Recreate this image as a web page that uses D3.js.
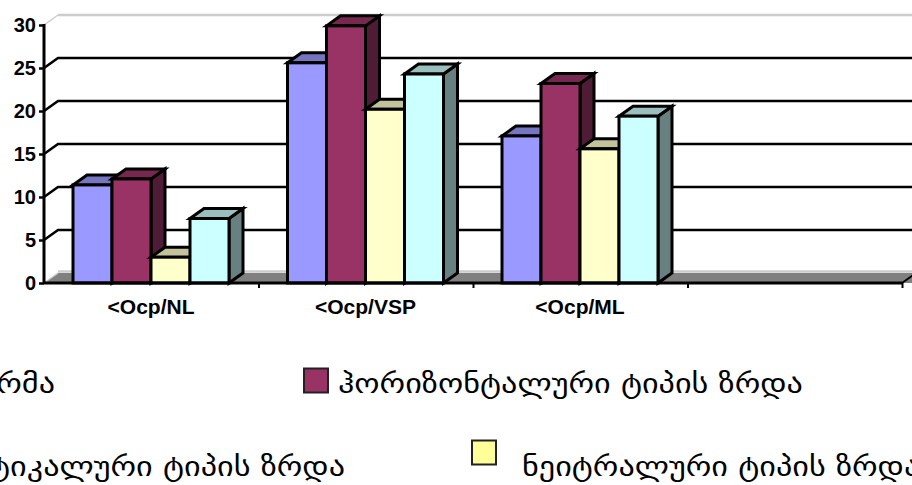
<!DOCTYPE html>
<html>
<head>
<meta charset="utf-8">
<script src="https://cdn.jsdelivr.net/npm/d3@7"></script>
<style>
html,body{margin:0;padding:0;background:#fff;overflow:hidden}
svg{display:block}
.tick-y{font:bold 20px "Liberation Sans",Arial,sans-serif}
.tick-x{font:bold 21px "Liberation Sans",Arial,sans-serif}
.legend{font:28px "DejaVu Sans",sans-serif;fill:#000}
</style>
</head>
<body>
<svg id="chart" width="912" height="485"></svg>
<script>
// Growth-type distribution across three cephalometric measures
const categories = ["<Ocp/NL", "<Ocp/VSP", "<Ocp/ML", ""];
const seriesNames = ["ნორმა", "ჰორიზონტალური ტიპის ზრდა", "ვერტიკალური ტიპის ზრდა", "ნეიტრალური ტიპის ზრდა"];
const norma = [11.4, 25.6, 17.1];
const horizontal = [12.1, 29.9, 23.2];
const vertical = [3.0, 20.2, 15.6];
const neutral = [7.5, 24.3, 19.4];
const yTicks = [0, 5, 10, 15, 20, 25, 30];

const seriesValues = [norma, horizontal, vertical, neutral];
const frontColors = ["#9999FF", "#993366", "#FFFFCC", "#CCFFFF"];
const topColors = ["#7676C0", "#76284F", "#C2C29B", "#99BFBF"];
const sideColors = ["#56568F", "#4F1C36", "#8F8F70", "#688080"];

const svg = d3.select("#chart");
const depthX = 14, depthY = -10;
const x = d3.scaleBand().domain(categories).range([44, 902]);
const inner = d3.scaleBand().domain(d3.range(4)).range([29, 185]);
const y = d3.scaleLinear().domain([0, 30]).range([283, 25]);
const rightEdge = 920;

// Floor and back wall
svg.append("polygon")
  .attr("points", [[44, y(0)], [44 + depthX, y(0) + depthY], [rightEdge, y(0) + depthY], [rightEdge, y(0)]].join(" "))
  .attr("fill", "#808080");

[0, 30].forEach(v => {
  svg.append("line")
    .attr("x1", 44 + depthX).attr("x2", rightEdge)
    .attr("y1", y(v) + depthY - (v === 0 ? 1.5 : 0)).attr("y2", y(v) + depthY - (v === 0 ? 1.5 : 0))
    .attr("stroke", "#cccccc").attr("stroke-width", 2.4);
  svg.append("line")
    .attr("x1", 44).attr("x2", 44 + depthX)
    .attr("y1", y(v)).attr("y2", y(v) + depthY)
    .attr("stroke", "#cccccc").attr("stroke-width", 1.5);
});

yTicks.filter(v => v > 0 && v < 30).forEach(v => {
  svg.append("path")
    .attr("d", d3.line()([[44, y(v)], [44 + depthX, y(v) + depthY], [rightEdge, y(v) + depthY]]))
    .attr("fill", "none").attr("stroke", "#000").attr("stroke-width", 2.6);
});

// Extruded bars, painted left to right so each one overlaps its neighbour's side
categories.slice(0, 3).forEach((cat, ci) => {
  seriesValues.forEach((vals, si) => {
    const x0 = x(cat) + inner(si), w = inner.bandwidth();
    const yt = y(vals[ci]), yb = y(0);
    const g = svg.append("g").attr("stroke", "#000").attr("stroke-width", 3).attr("stroke-linejoin", "miter");
    g.append("polygon")
      .attr("points", [[x0 + w, yt], [x0 + w + depthX, yt + depthY], [x0 + w + depthX, yb + depthY], [x0 + w, yb]].join(" "))
      .attr("fill", sideColors[si]);
    g.append("polygon")
      .attr("points", [[x0, yt], [x0 + depthX, yt + depthY], [x0 + w + depthX, yt + depthY], [x0 + w, yt]].join(" "))
      .attr("fill", topColors[si]);
    g.append("rect")
      .attr("x", x0).attr("y", yt).attr("width", w).attr("height", yb - yt)
      .attr("fill", frontColors[si]);
  });
});

// Value axis
const yAxis = svg.append("g").attr("transform", "translate(44,0)")
  .call(d3.axisLeft(y).tickValues(yTicks).tickSize(5).tickPadding(3));
yAxis.select(".domain").attr("stroke-width", 3).attr("d", `M0,${y(30) - 1}V${y(0) + 1}`);
yAxis.selectAll(".tick line").attr("stroke-width", 2.5);
yAxis.selectAll("text").attr("class", "tick-y").attr("fill", "#000");

// Category axis: ticks sit on band boundaries, labels are centred under the bars
const xBaseline = svg.append("g").attr("transform", `translate(0,${y(0)})`);
const edgeTicks = categories.map(c => x(c) + x.bandwidth());
xBaseline.call(d3.axisBottom(d3.scaleLinear().domain([44, 902]).range([44, 902]))
  .tickValues(edgeTicks).tickSize(5).tickFormat(""));
xBaseline.select(".domain").attr("stroke-width", 3).attr("d", "M44,0H902");
xBaseline.selectAll(".tick line").attr("stroke-width", 2);
svg.append("path")
  .attr("d", d3.line()([[902, y(0)], [916, y(0) + depthY]]))
  .attr("fill", "none").attr("stroke", "#000").attr("stroke-width", 2);

svg.selectAll("text.cat").data(categories.slice(0, 3)).enter().append("text")
  .attr("class", "cat tick-x")
  .attr("x", c => x(c) + 107)
  .attr("y", 314)
  .attr("text-anchor", "middle")
  .text(c => c);

// Legend, laid out wider than the frame so the outer entries run off it.
// Labels are stretched horizontally to the entry width of the layout.
const legendStretch = 464 / 404;
const legendText = [
  { end: 55, y: 393 },
  { start: 338, y: 393 },
  { end: 345, y: 476 },
  { start: 522, y: 476 }
];
legendText.forEach((p, i) => {
  const t = svg.append("text").attr("class", "legend").attr("y", p.y).text(seriesNames[i]);
  const len = t.node().getComputedTextLength();
  const target = len * legendStretch;
  t.attr("x", p.start !== undefined ? p.start : p.end - target)
    .attr("textLength", target)
    .attr("lengthAdjust", "spacingAndGlyphs");
});
svg.append("rect").attr("x", 304).attr("y", 368.5).attr("width", 24).attr("height", 24)
  .attr("fill", "#993366").attr("stroke", "#222").attr("stroke-width", 2);
svg.append("rect").attr("x", 472).attr("y", 440.5).attr("width", 24).attr("height", 24)
  .attr("fill", "#FFFF99").attr("stroke", "#222").attr("stroke-width", 2);
</script>
</body>
</html>
